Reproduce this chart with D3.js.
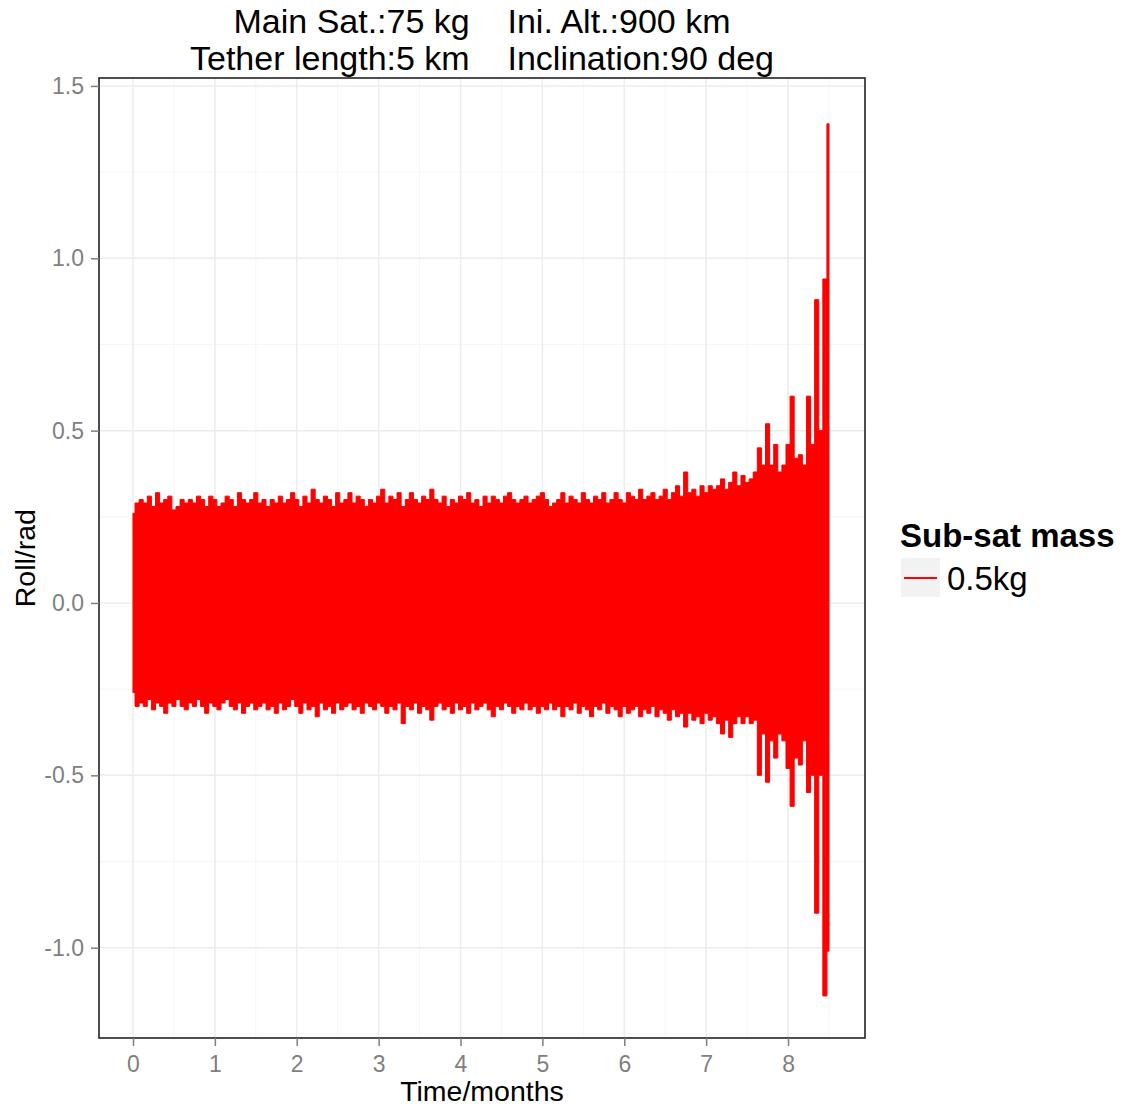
<!DOCTYPE html>
<html>
<head>
<meta charset="utf-8">
<script src="https://cdn.jsdelivr.net/npm/d3@7"></script>
<style>
    body { margin: 0; background: #fff; }
    svg text { font-family: "Liberation Sans", Arial, sans-serif; }
</style>
</head>
<body>
<div class="roll-chart"></div>
<script>
// sampling of the roll signal envelope, one value every 0.05 months
const sampleStep = 0.05;

// upper envelope (rad), one row per month
const rollUpper = [
    0.26, 0.29, 0.30, 0.29, 0.31, 0.28, 0.32, 0.29, 0.30, 0.31, 0.27, 0.28, 0.30, 0.29, 0.30, 0.29, 0.31, 0.30, 0.28, 0.31,
    0.30, 0.28, 0.29, 0.31, 0.30, 0.28, 0.32, 0.30, 0.29, 0.30, 0.32, 0.29, 0.30, 0.28, 0.30, 0.29, 0.31, 0.29, 0.30, 0.32,
    0.30, 0.28, 0.31, 0.29, 0.33, 0.30, 0.29, 0.31, 0.30, 0.28, 0.32, 0.29, 0.30, 0.32, 0.29, 0.31, 0.30, 0.28, 0.30, 0.29,
    0.31, 0.33, 0.29, 0.31, 0.30, 0.32, 0.28, 0.30, 0.32, 0.30, 0.29, 0.31, 0.30, 0.33, 0.30, 0.29, 0.31, 0.28, 0.30, 0.29,
    0.31, 0.30, 0.32, 0.29, 0.30, 0.28, 0.31, 0.29, 0.31, 0.30, 0.29, 0.31, 0.32, 0.30, 0.29, 0.30, 0.31, 0.29, 0.30, 0.31,
    0.32, 0.30, 0.28, 0.29, 0.30, 0.32, 0.29, 0.31, 0.30, 0.29, 0.32, 0.30, 0.29, 0.31, 0.30, 0.32, 0.29, 0.30, 0.32, 0.30,
    0.29, 0.32, 0.31, 0.30, 0.33, 0.30, 0.31, 0.32, 0.30, 0.31, 0.33, 0.30, 0.32, 0.34, 0.31, 0.38, 0.32, 0.33, 0.31, 0.34,
    0.32, 0.34, 0.33, 0.34, 0.36, 0.33, 0.35, 0.38, 0.34, 0.37, 0.35, 0.36, 0.38, 0.45, 0.40, 0.52, 0.40, 0.46, 0.38, 0.40,
    0.46, 0.60, 0.42, 0.43, 0.40, 0.60, 0.46, 0.88, 0.50, 0.94, 1.39
];

// lower envelope (rad)
const rollLower = [
    -0.26, -0.30, -0.29, -0.30, -0.28, -0.31, -0.29, -0.30, -0.32, -0.29, -0.30, -0.28, -0.30, -0.31, -0.29, -0.30, -0.28, -0.30, -0.32, -0.29,
    -0.30, -0.31, -0.29, -0.28, -0.30, -0.31, -0.29, -0.32, -0.30, -0.29, -0.31, -0.30, -0.29, -0.31, -0.30, -0.32, -0.29, -0.31, -0.30, -0.28,
    -0.30, -0.32, -0.29, -0.31, -0.30, -0.33, -0.29, -0.31, -0.30, -0.32, -0.29, -0.31, -0.30, -0.29, -0.31, -0.30, -0.32, -0.29, -0.30, -0.31,
    -0.29, -0.30, -0.32, -0.30, -0.31, -0.29, -0.35, -0.30, -0.31, -0.29, -0.32, -0.30, -0.31, -0.34, -0.30, -0.29, -0.31, -0.30, -0.32, -0.29,
    -0.31, -0.30, -0.32, -0.29, -0.31, -0.30, -0.29, -0.31, -0.33, -0.30, -0.31, -0.29, -0.30, -0.32, -0.30, -0.31, -0.29, -0.31, -0.30, -0.32,
    -0.30, -0.31, -0.29, -0.31, -0.30, -0.33, -0.30, -0.31, -0.29, -0.32, -0.30, -0.31, -0.33, -0.30, -0.31, -0.29, -0.32, -0.30, -0.31, -0.33,
    -0.30, -0.32, -0.31, -0.30, -0.33, -0.31, -0.32, -0.30, -0.33, -0.31, -0.32, -0.34, -0.31, -0.33, -0.32, -0.36, -0.32, -0.34, -0.33, -0.35,
    -0.32, -0.34, -0.33, -0.35, -0.38, -0.34, -0.39, -0.35, -0.33, -0.35, -0.33, -0.35, -0.34, -0.50, -0.38, -0.52, -0.40, -0.45, -0.38, -0.40,
    -0.48, -0.59, -0.45, -0.47, -0.40, -0.55, -0.50, -0.90, -0.50, -1.14, -1.01
];

const xTicks = [0, 1, 2, 3, 4, 5, 6, 7, 8];
const yTicks = [-1.0, -0.5, 0.0, 0.5, 1.0, 1.5];
const titleLines = ["Main Sat.:75 kg    Ini. Alt.:900 km", "Tether length:5 km    Inclination:90 deg"];
const legendTitle = "Sub-sat mass";
const legendLabels = ["0.5kg"];

let width = 1131,
    height = 1113,
    panel = { left: 99, top: 78, right: 865, bottom: 1038 };

let svg = d3.select(".roll-chart").append("svg")
    .attr("width", width)
    .attr("height", height);

let x = d3.scaleLinear().domain([-0.415, 8.94]).range([panel.left, panel.right]),
    y = d3.scaleLinear().domain([-1.262, 1.523]).range([panel.bottom, panel.top]);

let data = rollUpper.map((u, i) => ({ t: i * sampleStep, hi: u, lo: rollLower[i] }));

// grid
let grid = svg.append("g").attr("class", "grid");
let yMinor = d3.range(-1.25, 1.5, 0.5),
    xMinor = d3.range(0.5, 9, 1);

grid.selectAll(".ymin").data(yMinor).enter().append("line")
    .attr("x1", panel.left).attr("x2", panel.right)
    .attr("y1", d => y(d)).attr("y2", d => y(d))
    .attr("stroke", "#f6f6f6").attr("stroke-width", 1);
grid.selectAll(".xmin").data(xMinor).enter().append("line")
    .attr("y1", panel.top).attr("y2", panel.bottom)
    .attr("x1", d => x(d)).attr("x2", d => x(d))
    .attr("stroke", "#f6f6f6").attr("stroke-width", 1);
grid.selectAll(".ymaj").data(yTicks).enter().append("line")
    .attr("x1", panel.left).attr("x2", panel.right)
    .attr("y1", d => y(d)).attr("y2", d => y(d))
    .attr("stroke", "#ececec").attr("stroke-width", 1.5);
grid.selectAll(".xmaj").data(xTicks).enter().append("line")
    .attr("y1", panel.top).attr("y2", panel.bottom)
    .attr("x1", d => x(d)).attr("x2", d => x(d))
    .attr("stroke", "#ececec").attr("stroke-width", 1.5);

// roll signal, drawn as its oscillation envelope
let area = d3.area()
    .curve(d3.curveStep)
    .x(d => x(d.t))
    .y0(d => y(d.lo))
    .y1(d => y(d.hi));

svg.append("path")
    .datum(data)
    .attr("d", area)
    .attr("fill", "#ff0000")
    .attr("stroke", "#ff0000")
    .attr("stroke-width", 1);

// panel border
svg.append("rect")
    .attr("x", panel.left).attr("y", panel.top)
    .attr("width", panel.right - panel.left).attr("height", panel.bottom - panel.top)
    .attr("fill", "none").attr("stroke", "#222").attr("stroke-width", 1.6);

// axes (ggplot prints a plain hyphen for negatives)
let fmtY = d => d3.format(".1f")(d).replace("\u2212", "-");

let xAxis = svg.append("g")
    .attr("transform", "translate(0," + panel.bottom + ")")
    .call(d3.axisBottom(x).tickValues(xTicks).tickFormat(d3.format("d")).tickSize(8).tickPadding(10));
let yAxis = svg.append("g")
    .attr("transform", "translate(" + panel.left + ",0)")
    .call(d3.axisLeft(y).tickValues(yTicks).tickFormat(fmtY).tickSize(8).tickPadding(7));

[xAxis, yAxis].forEach(a => {
    a.select(".domain").remove();
    a.selectAll("line").attr("stroke", "#7f7f7f").attr("stroke-width", 1.5);
    a.selectAll("text")
        .attr("fill", "#7f7f7f")
        .style("font-size", "23px")
        .style("font-family", "'Liberation Sans', Arial, sans-serif");
});

// titles
svg.selectAll(".title").data(titleLines).enter().append("text")
    .attr("x", (panel.left + panel.right) / 2)
    .attr("y", (d, i) => 33 + i * 37)
    .attr("text-anchor", "middle")
    .style("font-size", "34px")
    .style("white-space", "pre")
    .text(d => d);

svg.append("text")
    .attr("x", (panel.left + panel.right) / 2)
    .attr("y", 1101)
    .attr("text-anchor", "middle")
    .style("font-size", "28.5px")
    .text("Time/months");

svg.append("text")
    .attr("transform", "translate(35," + y(0.13) + ") rotate(-90)")
    .attr("text-anchor", "middle")
    .style("font-size", "28.5px")
    .text("Roll/rad");

// legend
let legend = svg.append("g").attr("transform", "translate(900,0)");
legend.append("text")
    .attr("x", 0).attr("y", 547)
    .style("font-size", "33px")
    .style("font-weight", "bold")
    .text(legendTitle);

let items = legend.selectAll(".item").data(legendLabels).enter().append("g")
    .attr("transform", (d, i) => "translate(0," + (558 + i * 40) + ")");
items.append("rect")
    .attr("x", 1).attr("y", 0).attr("width", 39).attr("height", 39)
    .attr("fill", "#f2f2f2");
items.append("line")
    .attr("x1", 4).attr("x2", 37).attr("y1", 20).attr("y2", 20)
    .attr("stroke", "#ff0000").attr("stroke-width", 2);
items.append("text")
    .attr("x", 47).attr("y", 32)
    .style("font-size", "33px")
    .text(d => d);
</script>
</body>
</html>
